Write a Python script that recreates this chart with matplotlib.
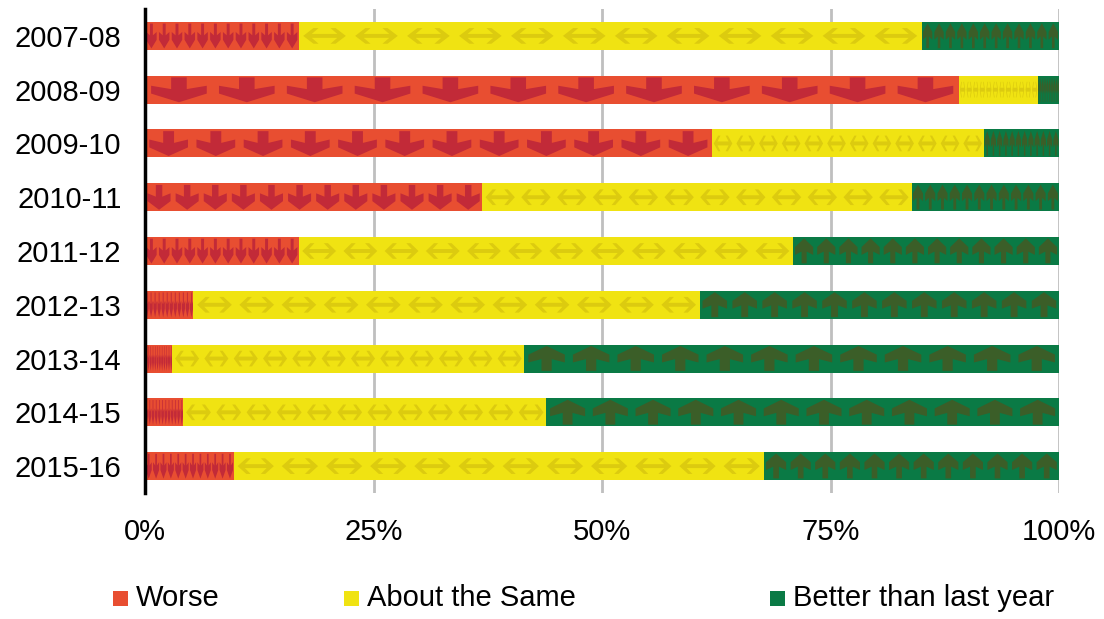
import matplotlib
matplotlib.use("Agg")
import matplotlib.pyplot as plt
from matplotlib.patches import Polygon, Rectangle
from matplotlib.ticker import FuncFormatter

plt.rcParams['font.family'] = ['Liberation Sans', 'DejaVu Sans']

# data (percent of respondents)
years = ['2007-08', '2008-09', '2009-10', '2010-11', '2011-12',
         '2012-13', '2013-14', '2014-15', '2015-16']
worse = [16.8, 89.1, 62.0, 36.9, 16.8, 5.3, 3.0, 4.2, 9.7]
same = [68.2, 8.6, 29.8, 47.0, 54.1, 55.4, 38.5, 39.7, 58.0]
better = [15.0, 2.3, 8.2, 16.1, 29.1, 39.3, 58.5, 56.1, 32.3]
series_names = ['Worse', 'About the Same', 'Better than last year']

bar_colors = ['#E84E31', '#F0E312', '#0A7A45']
icon_colors = ['#C22A38', '#DCCB0F', '#3B5E28']

# icon outlines in a unit cell (x 0..1 across, y 0 top .. 1 bottom)
down_arrow = [(0.36, 0.06), (0.64, 0.06), (0.64, 0.48), (1.0, 0.36), (1.0, 0.64),
              (0.5, 0.95), (0.0, 0.64), (0.0, 0.36), (0.36, 0.48)]
up_arrow = [(x, 1 - y) for x, y in down_arrow]
both_arrow = [(0.0, 0.5), (0.24, 0.22), (0.36, 0.22), (0.2, 0.43), (0.8, 0.43),
              (0.64, 0.22), (0.76, 0.22), (1.0, 0.5), (0.76, 0.78), (0.64, 0.78),
              (0.8, 0.57), (0.2, 0.57), (0.36, 0.78), (0.24, 0.78)]
icons = [down_arrow, both_arrow, up_arrow]
icons_per_bar = 12

fig = plt.figure(figsize=(11.04, 6.19), dpi=100)
ax = fig.add_axes([145 / 1104, 1 - 493 / 619, 914 / 1104, 484 / 619])

y = list(range(len(years)))
bar_h = 0.52
left = [0.0] * len(years)
for k, vals in enumerate([worse, same, better]):
    bars = ax.barh(y, vals, left=left, height=bar_h, color=bar_colors[k],
                   linewidth=0, zorder=2)
    for b in bars:
        x0, w = b.get_x(), b.get_width()
        yt = b.get_y()
        cell = w / icons_per_bar
        for i in range(icons_per_bar):
            cx = x0 + i * cell + cell * 0.09
            cw = cell * 0.82
            pts = [(cx + px * cw, yt + py * bar_h) for px, py in icons[k]]
            poly = Polygon(pts, closed=True, facecolor=icon_colors[k],
                           edgecolor='none', zorder=3)
            ax.add_patch(poly)
            poly.set_clip_path(b)
    left = [l + v for l, v in zip(left, vals)]

ax.set_xlim(0, 100)
ax.set_ylim(len(years) - 0.5, -0.5)
ax.set_yticks(y)
ax.set_yticklabels(years)
ax.set_xticks([0, 25, 50, 75, 100])
ax.xaxis.set_major_formatter(FuncFormatter(lambda v, p: f'{v:.0f}%'))
ax.tick_params(axis='both', length=0, labelsize=21, colors='black')
ax.tick_params(axis='y', pad=17)
ax.tick_params(axis='x', pad=18)
ax.grid(axis='x', color='#BFBFBF', linewidth=2, zorder=0)
ax.set_axisbelow(True)
for s in ['top', 'right', 'bottom']:
    ax.spines[s].set_visible(False)
ax.spines['left'].set_linewidth(2.5)
ax.spines['left'].set_zorder(5)

# legend laid out by hand to match the reference spacing
legend_x = [113, 344, 770]
for k, name in enumerate(series_names):
    fig.patches.append(Rectangle((legend_x[k] / 1104, 1 - 606 / 619), 15 / 1104, 15 / 619,
                                 transform=fig.transFigure, facecolor=bar_colors[k],
                                 edgecolor='none'))
    fig.text((legend_x[k] + 23) / 1104, 1 - 598 / 619, name, fontsize=21,
             va='center', ha='left')

fig.savefig('out.png', dpi=100)
